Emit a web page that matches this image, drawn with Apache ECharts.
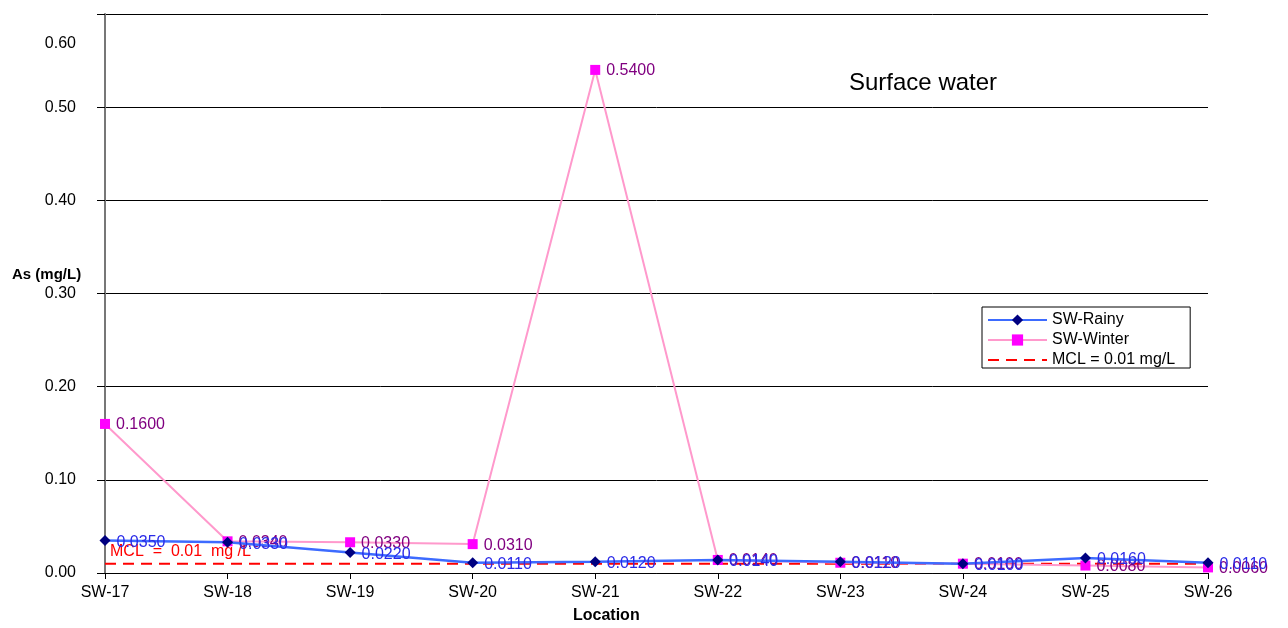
<!DOCTYPE html>
<html><head><meta charset="utf-8">
<script src="https://cdn.jsdelivr.net/npm/echarts@6/dist/echarts.min.js"></script>
<style>html,body{margin:0;padding:0;background:#fff}#c{width:1288px;height:628px}</style>
</head><body><div id="c"></div>
<script>
const categories = ['SW-17','SW-18','SW-19','SW-20','SW-21','SW-22','SW-23','SW-24','SW-25','SW-26'];
const rainy = [0.035, 0.033, 0.022, 0.011, 0.012, 0.014, 0.012, 0.010, 0.016, 0.011];
const winter = [0.160, 0.034, 0.033, 0.031, 0.540, 0.014, 0.011, 0.010, 0.008, 0.006];
const mcl = [0.01, 0.01, 0.01, 0.01, 0.01, 0.01, 0.01, 0.01, 0.01, 0.01];
const yTicks = [0, 0.1, 0.2, 0.3, 0.4, 0.5, 0.6];

const chart = echarts.init(document.getElementById('c'));
const font = 'Arial, "Liberation Sans", sans-serif';
chart.setOption({
  animation: false,
  textStyle: {fontFamily: font},
  title: {text: 'Surface water', left: 849, top: 71, padding: 0, textStyle: {fontSize: 24, fontWeight: 'normal', color: '#000', fontFamily: font}},
  grid: {left: 105, right: 80, top: 14, bottom: 55, containLabel: false, outerBoundsMode: 'none'},
  legend: {
    orient: 'vertical', left: 982, top: 307,
    backgroundColor: '#fff', borderColor: '#000', borderWidth: 1,
    padding: [5, 15, 0, 5], itemGap: 4, itemWidth: 59, itemHeight: 14,
    textStyle: {fontSize: 16, color: '#000', fontFamily: font},
    data: ['SW-Rainy', 'SW-Winter',
      {name: 'MCL = 0.01 mg/L', itemStyle: {color: 'rgba(0,0,0,0)', borderColor: 'rgba(0,0,0,0)', borderWidth: 0, opacity: 0}}]
  },
  graphic: [
    {type: 'text', left: 12, top: 267, style: {text: 'As (mg/L)', font: 'bold 15px Arial', fill: '#000'}},
    {type: 'text', left: 573, top: 608, style: {text: 'Location', font: 'bold 16px Arial', fill: '#000'}}
  ],
  xAxis: {
    type: 'category', data: categories, boundaryGap: false,
    axisLine: {lineStyle: {color: '#000', width: 1}},
    axisTick: {show: true, alignWithLabel: true, length: 6, lineStyle: {color: '#000'}},
    axisLabel: {fontSize: 16, color: '#000', margin: 12, fontFamily: font}
  },
  yAxis: {
    type: 'value', min: 0, max: 0.6, interval: 0.1,
    axisLine: {show: true, lineStyle: {color: '#777', width: 2}},
    axisTick: {show: true, length: 8, lineStyle: {color: '#000'}},
    splitLine: {show: true, lineStyle: {color: '#000', width: 1}},
    axisLabel: {
      fontSize: 16, color: '#000', margin: 29, fontFamily: font, lineHeight: 15,
      formatter: v => {
        const t = v.toFixed(2);
        return Math.abs(v - 0.6) < 1e-9 ? '\n\n\n\n' + t : t;
      }
    }
  },
  series: [
    {
      name: 'MCL = 0.01 mg/L', type: 'line',
      data: mcl.map((v, i) => i === 0 ? {value: v, label: {show: true}} : v),
      symbol: 'circle', symbolSize: 0, showSymbol: true, z: 1,
      lineStyle: {color: '#ff0000', width: 2, type: [11, 7]},
      itemStyle: {color: '#ff0000'},
      label: {show: false, position: 'right', distance: 5, offset: [0, -12], formatter: 'MCL  =  0.01  mg /L', color: '#ff0000', fontSize: 16, fontFamily: font}
    },
    {
      name: 'SW-Rainy', type: 'line', data: rainy, z: 3,
      symbol: 'diamond', symbolSize: 11,
      lineStyle: {color: '#3d6bff', width: 2.5},
      itemStyle: {color: '#000080'},
      label: {show: true, position: 'right', distance: 6, offset: [0, 2], color: '#2a2ae8', fontSize: 16, fontFamily: font, formatter: p => p.value.toFixed(4)}
    },
    {
      name: 'SW-Winter', type: 'line', data: winter, z: 2,
      symbol: 'rect', symbolSize: 10,
      lineStyle: {color: '#ff99cc', width: 2},
      itemStyle: {color: '#ff00ff'},
      label: {show: true, position: 'right', distance: 6, offset: [0, 1], color: '#800080', fontSize: 16, fontFamily: font, formatter: p => p.value.toFixed(4)}
    }
  ]
});
</script></body></html>
